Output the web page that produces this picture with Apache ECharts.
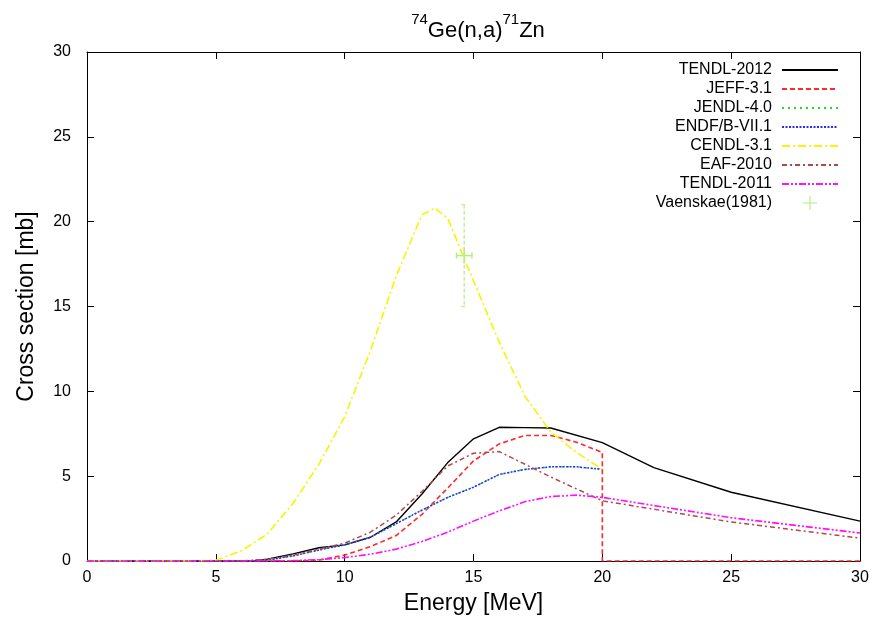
<!DOCTYPE html>
<html>
<head>
<meta charset="utf-8">
<script src="https://cdn.jsdelivr.net/npm/echarts@6/dist/echarts.min.js"></script>
<style>
html,body{margin:0;padding:0;background:#fff;}
#chart{width:873px;height:617px;}
</style>
</head>
<body>
<div id="chart"></div>
<script>
// ---- data ----
const energyTendl2012 = [0, 6, 6.5, 7, 8, 9, 10, 11, 12, 13, 14, 15, 16, 17, 18, 20, 22, 25, 30];
const tendl2012 = [0, 0, 0.02, 0.1, 0.42, 0.78, 0.95, 1.4, 2.3, 3.95, 5.8, 7.2, 7.88, 7.86, 7.84, 6.98, 5.5, 4.05, 2.35];

const energyJeff = [0, 8, 9, 10, 11, 12, 13, 14, 15, 16, 17, 18, 19, 20, 20, 30];
const jeff31 = [0, 0, 0.05, 0.35, 0.85, 1.5, 2.75, 4.3, 5.9, 6.9, 7.4, 7.4, 7.0, 6.4, 0, 0];

const energyJendl = [0, 6, 7, 8, 9, 10, 11, 12, 13, 14, 15, 16, 17, 18, 19, 20];
const jendl40 = [0, 0, 0.05, 0.3, 0.65, 0.95, 1.4, 2.2, 3.0, 3.75, 4.35, 5.1, 5.4, 5.55, 5.55, 5.4];

const energyEndf = [0, 6, 7, 8, 9, 10, 11, 12, 13, 14, 15, 16, 17, 18, 19, 20];
const endfb71 = [0, 0, 0.05, 0.3, 0.65, 0.95, 1.4, 2.2, 3.0, 3.75, 4.35, 5.1, 5.4, 5.55, 5.55, 5.4];

const energyCendl = [0, 4, 5, 6, 7, 8, 9, 10, 11, 12, 13, 13.5, 14, 15, 16, 17, 18, 19, 20];
const cendl31 = [0, 0, 0.05, 0.6, 1.6, 3.4, 5.7, 8.5, 12.4, 16.8, 20.4, 20.8, 20.2, 16.5, 12.9, 9.7, 7.6, 6.4, 5.4];

const energyEaf = [0, 6, 7, 8, 9, 10, 11, 12, 13, 14, 15, 16, 17, 18, 19, 20, 25, 30];
const eaf2010 = [0, 0, 0.1, 0.35, 0.7, 1.05, 1.7, 2.7, 4.1, 5.6, 6.35, 6.45, 5.7, 4.95, 4.25, 3.55, 2.3, 1.35];

const energyTendl2011 = [0, 7, 8, 9, 10, 11, 12, 13, 14, 15, 16, 17, 18, 19, 20, 25, 30];
const tendl2011 = [0, 0, 0.02, 0.08, 0.2, 0.4, 0.7, 1.15, 1.7, 2.35, 2.95, 3.5, 3.8, 3.88, 3.75, 2.55, 1.65];

const expEnergy = [14.64];
const expEnergyErr = [0.3];
const expValue = [18.0];
const expValueErr = [3.0];

const xTicks = [0, 5, 10, 15, 20, 25, 30];
const yTicks = [0, 5, 10, 15, 20, 25, 30];

// ---- helpers ----
function zip(xs, ys) { return xs.map((x, i) => [x, ys[i]]); }
const FONT = 'Liberation Sans, Arial, sans-serif';

function lineSeries(name, xs, ys, color, dash, width) {
  return {
    name: name, type: 'line', data: zip(xs, ys),
    symbol: 'none', showSymbol: false, smooth: false,
    lineStyle: { color: color, width: width || 1.5, type: dash },
    itemStyle: { color: color },
    emphasis: { disabled: true },
    animation: false, z: 3
  };
}

const expColor = '#b4ee80';
const plusIcon = 'path://M0,0h0.01v0.01h-0.01zM56,14h-0.01v-0.01h0.01zM20,6.4h16v1.3h-16zM27.35,-1h1.3v16h-1.3z';

const chart = echarts.init(document.getElementById('chart'), null, { renderer: 'canvas' });
chart.setOption({
  backgroundColor: '#ffffff',
  animation: false,
  title: {
    text: '{sup|74}{main|Ge(n,a)}{sup|71}{main|Zn}',
    left: 473, top: 7, textAlign: 'center',
    textStyle: {
      fontWeight: 'normal',
      rich: {
        main: { fontFamily: FONT, fontSize: 22, fontWeight: 'normal', color: '#000', verticalAlign: 'bottom', lineHeight: 30 },
        sup: { fontFamily: FONT, fontSize: 15, fontWeight: 'normal', color: '#000', verticalAlign: 'top', lineHeight: 30, padding: [0, 0, 14, 0] }
      }
    }
  },
  legend: {
    orient: 'vertical', right: 29, top: 57, align: 'right',
    itemWidth: 56, itemHeight: 14, itemGap: 3,
    itemStyle: { opacity: 0 },
    textStyle: { fontFamily: FONT, fontSize: 16, color: '#000', padding: [0, 5, 0, 0] },
    data: [
      'TENDL-2012', 'JEFF-3.1', 'JENDL-4.0', 'ENDF/B-VII.1', 'CENDL-3.1', 'EAF-2010', 'TENDL-2011',
      { name: 'Vaenskae(1981)', icon: plusIcon, itemStyle: { color: expColor, opacity: 1 } }
    ]
  },
  grid: { left: 87, right: 13, top: 52, bottom: 56, containLabel: false, outerBoundsMode: 'none' },
  xAxis: [{
    type: 'value', min: 0, max: 30, interval: 5,
    name: 'Energy [MeV]', nameLocation: 'middle', nameGap: 31,
    nameTextStyle: { fontFamily: FONT, fontSize: 23, color: '#000' },
    axisLine: { show: true, onZero: false, lineStyle: { color: '#000', width: 1 } },
    axisTick: { show: true, inside: true, length: 7, lineStyle: { color: '#000' } },
    axisLabel: { fontFamily: FONT, fontSize: 16, color: '#000', margin: 9,
      formatter: v => xTicks.includes(v) ? String(v) : '' },
    splitLine: { show: false }
  }, {
    type: 'value', min: 0, max: 30, interval: 5, position: 'top',
    axisLine: { show: true, onZero: false, lineStyle: { color: '#000', width: 1 } },
    axisTick: { show: true, inside: true, length: 7, lineStyle: { color: '#000' } },
    axisLabel: { show: false }, splitLine: { show: false }
  }],
  yAxis: [{
    type: 'value', min: 0, max: 30, interval: 5,
    name: 'Cross section [mb]', nameLocation: 'middle', nameGap: 49,
    nameTextStyle: { fontFamily: FONT, fontSize: 23, color: '#000' },
    axisLine: { show: true, onZero: false, lineStyle: { color: '#000', width: 1 } },
    axisTick: { show: true, inside: true, length: 7, lineStyle: { color: '#000' } },
    axisLabel: { fontFamily: FONT, fontSize: 16, color: '#000', margin: 16,
      formatter: v => yTicks.includes(v) ? String(v) : '' },
    splitLine: { show: false }
  }, {
    type: 'value', min: 0, max: 30, interval: 5, position: 'right',
    axisLine: { show: true, onZero: false, lineStyle: { color: '#000', width: 1 } },
    axisTick: { show: true, inside: true, length: 7, lineStyle: { color: '#000' } },
    axisLabel: { show: false }, splitLine: { show: false }
  }],
  series: [
    lineSeries('TENDL-2012', energyTendl2012, tendl2012, '#000000', 'solid', 1.4),
    lineSeries('JEFF-3.1', energyJeff, jeff31, '#ff2a2a', [5, 3], 1.6),
    lineSeries('JENDL-4.0', energyJendl, jendl40, '#22dd22', [2, 4], 1.5),
    lineSeries('ENDF/B-VII.1', energyEndf, endfb71, '#2a2aff', [2, 1.5], 1.5),
    lineSeries('CENDL-3.1', energyCendl, cendl31, '#f5f500', [8, 3, 2, 3], 1.6),
    lineSeries('EAF-2010', energyEaf, eaf2010, '#b04848', [5, 3, 2, 3], 1.5),
    lineSeries('TENDL-2011', energyTendl2011, tendl2011, '#ff10ff', [7, 2, 2, 2, 2, 2], 1.6),
    {
      name: 'Vaenskae(1981)', type: 'custom',
      data: expEnergy.map((e, i) => [e, expValue[i], expEnergyErr[i], expValueErr[i]]),
      itemStyle: { color: expColor },
      renderItem: function (params, api) {
        const x = api.value(0), y = api.value(1), dx = api.value(2), dy = api.value(3);
        const c = api.coord([x, y]);
        const top = api.coord([x, y + dy]);
        const bot = api.coord([x, y - dy]);
        const lft = api.coord([x - dx, y]);
        const rgt = api.coord([x + dx, y]);
        const cap = 3;
        const solid = { stroke: expColor, lineWidth: 1.5 };
        const dashed = { stroke: '#c4f0a0', lineWidth: 1.5, lineDash: [4, 2] };
        return {
          type: 'group',
          children: [
            { type: 'line', shape: { x1: top[0], y1: top[1], x2: bot[0], y2: bot[1] }, style: dashed },
            { type: 'line', shape: { x1: top[0] - cap, y1: top[1], x2: top[0] + cap, y2: top[1] }, style: dashed },
            { type: 'line', shape: { x1: bot[0] - cap, y1: bot[1], x2: bot[0] + cap, y2: bot[1] }, style: dashed },
            { type: 'line', shape: { x1: lft[0], y1: lft[1], x2: rgt[0], y2: rgt[1] }, style: solid },
            { type: 'line', shape: { x1: lft[0], y1: lft[1] - cap, x2: lft[0], y2: lft[1] + cap }, style: solid },
            { type: 'line', shape: { x1: rgt[0], y1: rgt[1] - cap, x2: rgt[0], y2: rgt[1] + cap }, style: solid },
            { type: 'line', shape: { x1: c[0], y1: c[1] - 8, x2: c[0], y2: c[1] + 8 }, style: solid }
          ]
        };
      },
      z: 4, animation: false
    }
  ]
});
</script>
</body>
</html>
